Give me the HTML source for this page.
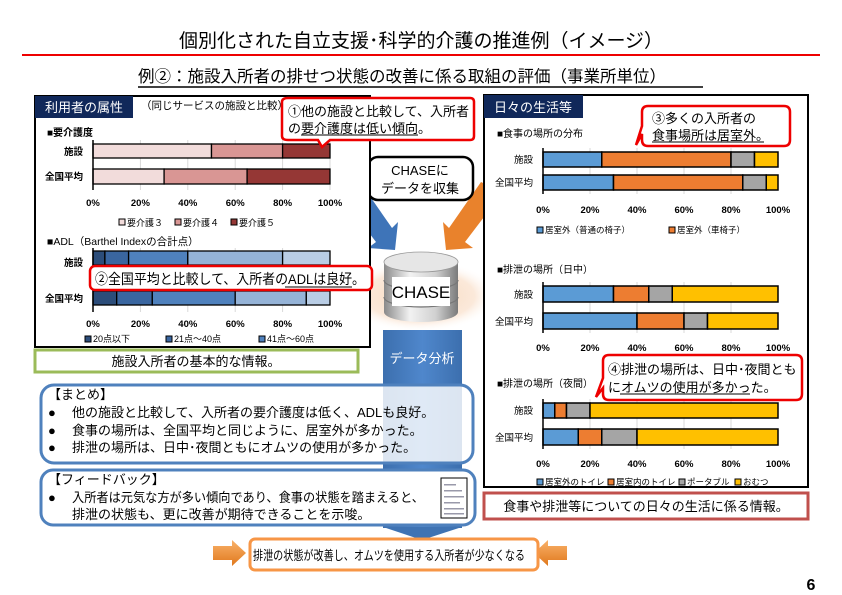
<!DOCTYPE html>
<html><head><meta charset="utf-8"><style>
html,body{margin:0;padding:0;background:#fff;}
svg{display:block;font-family:"Liberation Sans","Noto Sans CJK JP",sans-serif;}
</style></head><body>
<svg width="842" height="595" viewBox="0 0 842 595" xmlns="http://www.w3.org/2000/svg">
<defs>
<radialGradient id="glow" cx="50%" cy="50%" r="50%"><stop offset="0" stop-color="#f8d8bc"/><stop offset="0.7" stop-color="#fbe9da"/><stop offset="1" stop-color="#fff" stop-opacity="0"/></radialGradient>
<linearGradient id="cyl" x1="0" x2="1"><stop offset="0" stop-color="#8a8a8a"/><stop offset="0.35" stop-color="#f2f2f2"/><stop offset="0.7" stop-color="#d0d0d0"/><stop offset="1" stop-color="#7a7a7a"/></linearGradient>
<linearGradient id="col" x1="0" x2="1"><stop offset="0" stop-color="#3c6fae"/><stop offset="0.5" stop-color="#4f87cc"/><stop offset="1" stop-color="#3c6fae"/></linearGradient>
<linearGradient id="org" x1="0" y1="0" x2="0" y2="1"><stop offset="0" stop-color="#f9b26a"/><stop offset="1" stop-color="#e0781c"/></linearGradient>
</defs>

<text x="421" y="47" font-size="19" text-anchor="middle" fill="#000">個別化された自立支援･科学的介護の推進例（イメージ）</text>
<line x1="22" y1="55" x2="820" y2="55" stroke="#e00" stroke-width="2"/>
<text x="138" y="82" font-size="16.5" fill="#000">例②：施設入所者の排せつ状態の改善に係る取組の評価（事業所単位）</text>
<line x1="138" y1="87" x2="703" y2="87" stroke="#000" stroke-width="1.5"/>

<ellipse cx="420" cy="296" rx="78" ry="36" fill="url(#glow)"/>
<rect x="383" y="330" width="79" height="198" fill="url(#col)"/>
<polygon points="383,527 462,527 422,540" fill="#3f73b3"/>
<text x="422" y="363" font-size="13" fill="#fff" text-anchor="middle">データ分析</text>

<polygon points="338,192 360,182 392,228 398,222 395,250 368,248 376,242" fill="#3e74b8"/>
<polygon points="503,192 481,182 449,228 443,222 446,250 473,248 465,242" fill="#e9822c"/>
<rect x="368" y="157" width="105" height="43" rx="10" fill="#fff" stroke="#000" stroke-width="2.5"/>
<text x="420" y="175" font-size="13" text-anchor="middle">CHASEに</text>
<text x="420" y="193" font-size="13" text-anchor="middle">データを収集</text>

<path d="M384,262 L384,312 A37,10 0 0 0 458,312 L458,262 Z" fill="url(#cyl)"/>
<ellipse cx="421" cy="262" rx="37" ry="10" fill="#e6e6e6" stroke="#999" stroke-width="0.8"/>
<path d="M384,280 A37,10 0 0 0 458,280 M384,297 A37,10 0 0 0 458,297" fill="none" stroke="#777" stroke-width="1.2"/>
<rect x="392" y="277" width="58" height="29" fill="#fff"/>
<text x="421" y="298" font-size="17" text-anchor="middle">CHASE</text>

<rect x="35" y="96" width="335" height="251" fill="#fff" stroke="#000" stroke-width="2"/>
<rect x="35" y="96" width="98" height="22" fill="#10285a"/>
<text x="84" y="112" font-size="13" fill="#fff" text-anchor="middle">利用者の属性</text>
<text x="141" y="109" font-size="10.5">（同じサービスの施設と比較）</text>
<text x="47" y="136" font-size="10" font-weight="bold">■要介護度</text>
<g stroke="#d9d9d9" stroke-width="1">
<line x1="140.4" y1="140" x2="140.4" y2="190"/><line x1="187.8" y1="140" x2="187.8" y2="190"/><line x1="235.2" y1="140" x2="235.2" y2="190"/><line x1="282.6" y1="140" x2="282.6" y2="190"/><line x1="330" y1="140" x2="330" y2="190"/>
</g>
<g stroke="#000" stroke-width="1.3">
<rect x="93" y="144" width="118.5" height="14" fill="#f2dcdb"/><rect x="211.5" y="144" width="71.1" height="14" fill="#d99694"/><rect x="282.6" y="144" width="47.4" height="14" fill="#953735"/>
<rect x="93" y="169" width="71.1" height="15" fill="#f2dcdb"/><rect x="164.1" y="169" width="83" height="15" fill="#d99694"/><rect x="247.1" y="169" width="82.9" height="15" fill="#953735"/>
<line x1="93" y1="140" x2="93" y2="190" stroke-width="1.5"/>
</g>
<g font-size="9.5" font-weight="bold" text-anchor="end"><text x="83" y="155">施設</text><text x="83" y="180">全国平均</text></g>
<g font-size="9.5" font-weight="bold" text-anchor="middle"><text x="93" y="206">0%</text><text x="140.4" y="206">20%</text><text x="187.8" y="206">40%</text><text x="235.2" y="206">60%</text><text x="282.6" y="206">80%</text><text x="330" y="206">100%</text></g>
<g font-size="9"><rect x="119" y="219" width="6" height="6" fill="#f2dcdb" stroke="#000"/><text x="127" y="226">要介護３</text>
<rect x="175" y="219" width="6" height="6" fill="#d99694" stroke="#000"/><text x="183" y="226">要介護４</text>
<rect x="231" y="219" width="6" height="6" fill="#953735" stroke="#000"/><text x="239" y="226">要介護５</text></g>
<text x="47" y="245" font-size="10.5">■ADL（Barthel Indexの合計点）</text>
<g stroke="#d9d9d9"><line x1="140.4" y1="248" x2="140.4" y2="312"/><line x1="187.8" y1="248" x2="187.8" y2="312"/><line x1="235.2" y1="248" x2="235.2" y2="312"/><line x1="282.6" y1="248" x2="282.6" y2="312"/></g>
<g stroke="#000" stroke-width="1.3">
<rect x="93" y="251" width="11.9" height="14" fill="#2c4d7a"/><rect x="104.9" y="251" width="23.7" height="14" fill="#3a66a0"/><rect x="128.6" y="251" width="59.2" height="14" fill="#4f81bd"/><rect x="187.8" y="251" width="94.8" height="14" fill="#95b3d7"/><rect x="282.6" y="251" width="47.4" height="14" fill="#b9cde5"/>
<rect x="93" y="291" width="23.7" height="14" fill="#2c4d7a"/><rect x="116.7" y="291" width="35.6" height="14" fill="#3a66a0"/><rect x="152.3" y="291" width="82.9" height="14" fill="#4f81bd"/><rect x="235.2" y="291" width="71.1" height="14" fill="#95b3d7"/><rect x="306.3" y="291" width="23.7" height="14" fill="#b9cde5"/>
<line x1="93" y1="248" x2="93" y2="312" stroke-width="1.5"/>
</g>
<g font-size="9.5" font-weight="bold" text-anchor="end"><text x="83" y="266">施設</text><text x="83" y="302">全国平均</text></g>
<g font-size="9.5" font-weight="bold" text-anchor="middle"><text x="93" y="327">0%</text><text x="140.4" y="327">20%</text><text x="187.8" y="327">40%</text><text x="235.2" y="327">60%</text><text x="282.6" y="327">80%</text><text x="330" y="327">100%</text></g>
<g font-size="9"><rect x="85" y="336" width="6" height="6" fill="#2c4d7a" stroke="#000"/><text x="93" y="342">20点以下</text>
<rect x="166" y="336" width="6" height="6" fill="#3a66a0" stroke="#000"/><text x="174" y="342">21点～40点</text>
<rect x="259" y="336" width="6" height="6" fill="#4f81bd" stroke="#000"/><text x="267" y="342">41点～60点</text></g>

<path d="M288,98 H470 Q474,98 474,102 V136 Q474,140 470,140 H330 L322,147 L318,140 H288 Q282,140 282,136 V102 Q282,98 288,98 Z" fill="#fff" stroke="#e00" stroke-width="2.5"/>
<text x="288" y="116" font-size="13">①他の施設と比較して、入所者</text>
<text x="288" y="133" font-size="13">の要介護度は低い傾向。</text>
<line x1="301" y1="135" x2="418" y2="135" stroke="#000" stroke-width="1"/>
<rect x="90" y="266" width="282" height="24" rx="5" fill="#fff" stroke="#e00" stroke-width="2.5"/>
<text x="95" y="284" font-size="14" textLength="270" lengthAdjust="spacingAndGlyphs">②全国平均と比較して、入所者のADLは良好。</text>
<line x1="285" y1="287" x2="352" y2="287" stroke="#000" stroke-width="1"/>

<rect x="35" y="350" width="323" height="22" fill="#fff" stroke="#9bbb59" stroke-width="3"/>
<text x="196" y="366" font-size="13" text-anchor="middle">施設入所者の基本的な情報。</text>

<rect x="484" y="95" width="324" height="392" fill="#fff" stroke="#000" stroke-width="2"/>
<rect x="484" y="95" width="99" height="23" fill="#10285a"/>
<text x="533" y="112" font-size="13" fill="#fff" text-anchor="middle">日々の生活等</text>
<text x="497" y="137" font-size="10">■食事の場所の分布</text>
<g stroke="#d9d9d9"><line x1="590" y1="148" x2="590" y2="194"/><line x1="637" y1="148" x2="637" y2="194"/><line x1="684" y1="148" x2="684" y2="194"/><line x1="731" y1="148" x2="731" y2="194"/><line x1="590" y1="282" x2="590" y2="333"/><line x1="637" y1="282" x2="637" y2="333"/><line x1="684" y1="282" x2="684" y2="333"/><line x1="731" y1="282" x2="731" y2="333"/><line x1="590" y1="399" x2="590" y2="449"/><line x1="637" y1="399" x2="637" y2="449"/><line x1="684" y1="399" x2="684" y2="449"/><line x1="731" y1="399" x2="731" y2="449"/></g>
<g stroke="#000" stroke-width="1.5">
<rect x="543" y="152" width="58.75" height="15" fill="#5b9bd5"/><rect x="601.75" y="152" width="129.25" height="15" fill="#ed7d31"/><rect x="731" y="152" width="23.5" height="15" fill="#a5a5a5"/><rect x="754.5" y="152" width="23.5" height="15" fill="#ffc000"/>
<rect x="543" y="175" width="70.5" height="15" fill="#5b9bd5"/><rect x="613.5" y="175" width="129.25" height="15" fill="#ed7d31"/><rect x="742.75" y="175" width="23.5" height="15" fill="#a5a5a5"/><rect x="766.25" y="175" width="11.75" height="15" fill="#ffc000"/>
<rect x="543" y="286" width="70.5" height="16" fill="#5b9bd5"/><rect x="613.5" y="286" width="35.25" height="16" fill="#ed7d31"/><rect x="648.75" y="286" width="23.5" height="16" fill="#a5a5a5"/><rect x="672.25" y="286" width="105.75" height="16" fill="#ffc000"/>
<rect x="543" y="313" width="94" height="16" fill="#5b9bd5"/><rect x="637" y="313" width="47" height="16" fill="#ed7d31"/><rect x="684" y="313" width="23.5" height="16" fill="#a5a5a5"/><rect x="707.5" y="313" width="70.5" height="16" fill="#ffc000"/>
<rect x="543" y="403" width="11.75" height="15" fill="#5b9bd5"/><rect x="554.75" y="403" width="11.75" height="15" fill="#ed7d31"/><rect x="566.5" y="403" width="23.5" height="15" fill="#a5a5a5"/><rect x="590" y="403" width="188" height="15" fill="#ffc000"/>
<rect x="543" y="429" width="35.25" height="16" fill="#5b9bd5"/><rect x="578.25" y="429" width="23.5" height="16" fill="#ed7d31"/><rect x="601.75" y="429" width="35.25" height="16" fill="#a5a5a5"/><rect x="637" y="429" width="141" height="16" fill="#ffc000"/>
<line x1="543" y1="148" x2="543" y2="194"/><line x1="543" y1="282" x2="543" y2="333"/><line x1="543" y1="399" x2="543" y2="449"/>
</g>
<g font-size="9.5" text-anchor="end"><text x="533" y="163">施設</text><text x="533" y="186">全国平均</text><text x="533" y="298">施設</text><text x="533" y="325">全国平均</text><text x="533" y="414">施設</text><text x="533" y="441">全国平均</text></g>
<g font-size="9.5" font-weight="bold" text-anchor="middle">
<text x="543" y="213">0%</text><text x="590" y="213">20%</text><text x="637" y="213">40%</text><text x="684" y="213">60%</text><text x="731" y="213">80%</text><text x="778" y="213">100%</text>
<text x="543" y="351">0%</text><text x="590" y="351">20%</text><text x="637" y="351">40%</text><text x="684" y="351">60%</text><text x="731" y="351">80%</text><text x="778" y="351">100%</text>
<text x="543" y="467">0%</text><text x="590" y="467">20%</text><text x="637" y="467">40%</text><text x="684" y="467">60%</text><text x="731" y="467">80%</text><text x="778" y="467">100%</text>
</g>
<g font-size="8.5"><rect x="537" y="227" width="6" height="6" fill="#5b9bd5" stroke="#000"/><text x="545" y="233">居室外（普通の椅子）</text>
<rect x="669" y="227" width="6" height="6" fill="#ed7d31" stroke="#000"/><text x="677" y="233">居室外（車椅子）</text>
<rect x="537" y="479" width="6" height="6" fill="#5b9bd5" stroke="#000"/><text x="545" y="485">居室外のトイレ</text>
<rect x="608" y="479" width="6" height="6" fill="#ed7d31" stroke="#000"/><text x="616" y="485">居室内のトイレ</text>
<rect x="679" y="479" width="6" height="6" fill="#a5a5a5" stroke="#000"/><text x="687" y="485">ポータブル</text>
<rect x="735" y="479" width="6" height="6" fill="#ffc000" stroke="#000"/><text x="743" y="485">おむつ</text></g>
<text x="497" y="273" font-size="10">■排泄の場所（日中）</text>
<text x="497" y="387" font-size="10">■排泄の場所（夜間）</text>

<path d="M648,106 H784 Q790,106 790,112 V140 Q790,146 784,146 H648 Q642,146 642,140 V134 L636,145 L642,126 V112 Q642,106 648,106 Z" fill="#fff" stroke="#e00" stroke-width="2.5"/>
<text x="652" y="123" font-size="13">③多くの入所者の</text>
<text x="652" y="140" font-size="13">食事場所は居室外。</text>
<line x1="652" y1="142" x2="764" y2="142" stroke="#000" stroke-width="1"/>
<path d="M609,355 H796 Q802,355 802,361 V394 Q802,400 796,400 H609 Q603,400 603,394 V388 L596,397 L603,378 V361 Q603,355 609,355 Z" fill="#fff" stroke="#e00" stroke-width="2.5"/>
<text x="608" y="374" font-size="13">④排泄の場所は、日中･夜間とも</text>
<text x="608" y="392" font-size="13">にオムツの使用が多かった。</text>
<line x1="620" y1="394" x2="750" y2="394" stroke="#000" stroke-width="1"/>

<rect x="484" y="493" width="324" height="26" fill="#fff" stroke="#c0504d" stroke-width="3"/>
<text x="646" y="511" font-size="13" text-anchor="middle">食事や排泄等についての日々の生活に係る情報。</text>

<rect x="41" y="385" width="432" height="78" rx="13" fill="#fff" fill-opacity="0.82" stroke="#4f81bd" stroke-width="3"/>
<g font-size="13">
<text x="48" y="399">【まとめ】</text>
<text x="48" y="417">●</text><text x="72" y="417">他の施設と比較して、入所者の要介護度は低く、ADLも良好。</text>
<text x="48" y="435">●</text><text x="72" y="435">食事の場所は、全国平均と同じように、居室外が多かった。</text>
<text x="48" y="452">●</text><text x="72" y="452">排泄の場所は、日中･夜間ともにオムツの使用が多かった。</text>
</g>
<rect x="41" y="470" width="434" height="55" rx="12" fill="#fff" stroke="#4f81bd" stroke-width="3"/>
<g font-size="13">
<text x="48" y="484">【フィードバック】</text>
<text x="48" y="502">●</text><text x="72" y="502" textLength="352" lengthAdjust="spacingAndGlyphs">入所者は元気な方が多い傾向であり、食事の状態を踏まえると、</text>
<text x="72" y="519">排泄の状態も、更に改善が期待できることを示唆。</text>
</g>
<rect x="441" y="478" width="26" height="40" fill="#fff" stroke="#000" stroke-width="1"/>
<g fill="#99a"><rect x="444" y="484" width="12" height="1.5"/><rect x="444" y="490" width="18" height="1.5"/><rect x="444" y="496" width="20" height="1.5"/><rect x="444" y="502" width="16" height="1.5"/><rect x="444" y="508" width="20" height="1.5"/><rect x="444" y="513" width="20" height="1.5"/></g>

<polygon points="213,546 232,546 232,540 246,553 232,566 232,560 213,560" fill="url(#org)"/>
<polygon points="567,546 548,546 548,540 534,553 548,566 548,560 567,560" fill="url(#org)"/>
<rect x="250" y="539" width="288" height="31" rx="5" fill="#fff" stroke="#f79646" stroke-width="3"/>
<text x="253" y="560" font-size="13" textLength="272" lengthAdjust="spacingAndGlyphs">排泄の状態が改善し、オムツを使用する入所者が少なくなる</text>
<text x="811" y="590" font-size="16" font-weight="bold" text-anchor="middle">6</text>
</svg>
</body></html>
